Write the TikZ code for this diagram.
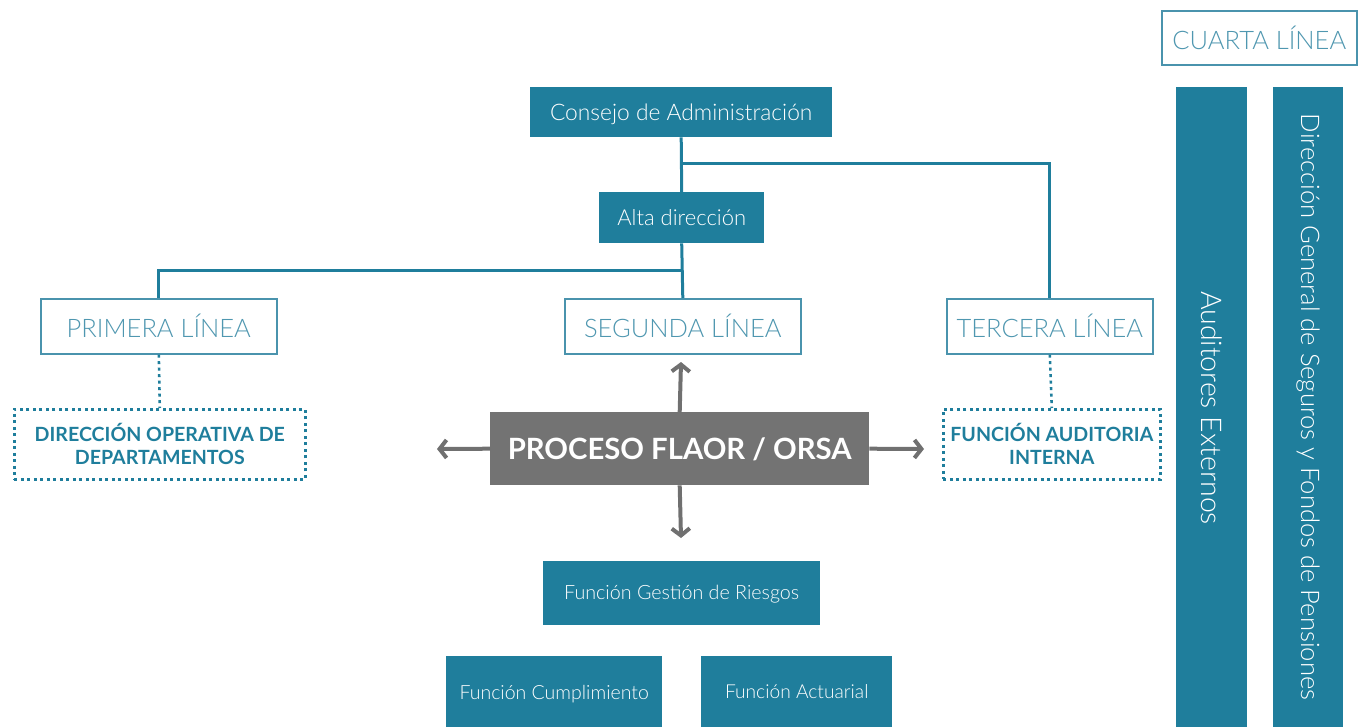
\documentclass[tikz,border=0pt]{standalone}
\usepackage{fontspec}
\setmainfont{Lato}
\newfontfamily\lightfont{Lato Light}
\usetikzlibrary{arrows.meta}
\definecolor{teal1}{HTML}{1F7E9C}
\definecolor{tealtxt}{HTML}{4F97B0}
\definecolor{tealline}{HTML}{4A93AD}
\definecolor{grayP}{HTML}{737373}
\definecolor{grayA}{HTML}{707070}
\tikzset{
  solidbox/.style={fill=teal1, draw=none, text=white, inner sep=0pt, anchor=north west, text depth=0pt},
  linebox/.style={fill=white, draw=tealline, line width=1.6pt, text=tealtxt, inner sep=0pt, anchor=north west, font=\lightfont\fontsize{25.5}{28}\selectfont, text height=22.4pt, text depth=0pt},
  dotbox/.style={draw=teal1, line width=2.6pt, dash pattern=on 3pt off 3.5pt, text=teal1, inner sep=0pt, anchor=north west, align=center, font=\bfseries\fontsize{19.6}{23}\selectfont},
  conn/.style={draw=teal1, line width=3pt},
  dotconn/.style={draw=teal1, line width=2.6pt, dash pattern=on 3pt off 3.5pt},
  garrow/.style={draw=grayA, line width=4pt, -{Straight Barb[length=7pt,width=18pt,line width=4pt]}},
}
\begin{document}
\begin{tikzpicture}[x=1pt,y=-1pt]
\useasboundingbox (0,0) rectangle (1363,726);
% top
\node[solidbox, minimum width=302pt, minimum height=50pt, font=\lightfont\fontsize{22.8}{26}\selectfont, text height=17pt] (cons) at (530,87) {Consejo de Administración};
\node[solidbox, minimum width=165pt, minimum height=51pt, font=\lightfont\fontsize{22}{26}\selectfont, text height=15pt] (alta) at (599,192) {Alta dirección};
% lines boxes
\node[linebox, minimum width=236pt, minimum height=55pt] (prim) at (40,298) {PRIMERA LÍNEA};
\node[linebox, minimum width=236pt, minimum height=55pt] (seg) at (564,298) {SEGUNDA LÍNEA};
\node[linebox, minimum width=206pt, minimum height=55pt] (terc) at (946,298) {TERCERA LÍNEA};
\node[linebox, minimum width=195pt, minimum height=54pt] (cuarta) at (1161,10) {CUARTA LÍNEA};
% connectors
\coordinate (j1) at (681,163);
\coordinate (j2) at (681,270);
\draw[conn] (cons.south) -- (alta.north);
\draw[conn] (alta.south) -- (seg.north);
\draw[conn] (j1) -| (terc.north);
\draw[conn] (j2) -| (prim.north);
% dotted boxes
\node[dotbox, minimum width=291pt, minimum height=70pt] (dop) at (13,408) {DIRECCIÓN OPERATIVA DE\\DEPARTAMENTOS};
\node[dotbox, minimum width=217pt, minimum height=70pt] (fai) at (942,408) {FUNCIÓN AUDITORIA\\INTERNA};
\draw[dotconn] (prim.south) -- (dop.north);
\draw[dotconn] (terc.south) -- (fai.north);
% proceso
\node[fill=grayP, text=white, inner sep=0pt, anchor=north west, minimum width=379pt, minimum height=73pt, font=\bfseries\fontsize{29.3}{34}\selectfont, text height=22pt, text depth=0pt] (proc) at (490,412) {PROCESO FLAOR / ORSA};
\coordinate (aup) at (681,362);
\coordinate (adn) at (681,538);
\coordinate (alf) at (437,449);
\coordinate (art) at (924,449);
\draw[garrow] (proc.north) -- (aup);
\draw[garrow] (proc.south) -- (adn);
\draw[garrow] (proc.west) -- (alf);
\draw[garrow] (proc.east) -- (art);
% functions
\node[solidbox, minimum width=277pt, minimum height=64pt, font=\lightfont\fontsize{19.7}{22}\selectfont, text height=13.5pt] (fgr) at (543,561) {Función Gestión de Riesgos};
\node[solidbox, minimum width=216pt, minimum height=75pt, font=\lightfont\fontsize{19.5}{22}\selectfont, text height=12pt] (fcu) at (446,656) {Función Cumplimiento};
\node[solidbox, minimum width=191pt, minimum height=75pt, font=\lightfont\fontsize{19.2}{22}\selectfont, text height=9pt] (fac) at (701,656) {Función Actuarial};
% vertical bars
\fill[teal1] (1176,87) rectangle (1247,730);
\fill[teal1] (1273,87) rectangle (1343,730);
\node[text=white, rotate=-90, font=\lightfont\fontsize{28.5}{32}\selectfont] (aud) at (1211.5,408) {Auditores Externos};
\node[text=white, rotate=-90, font=\lightfont\fontsize{25.6}{30}\selectfont] (dgs) at (1308,407) {Dirección General de Seguros y Fondos de Pensiones};
\end{tikzpicture}
\end{document}
